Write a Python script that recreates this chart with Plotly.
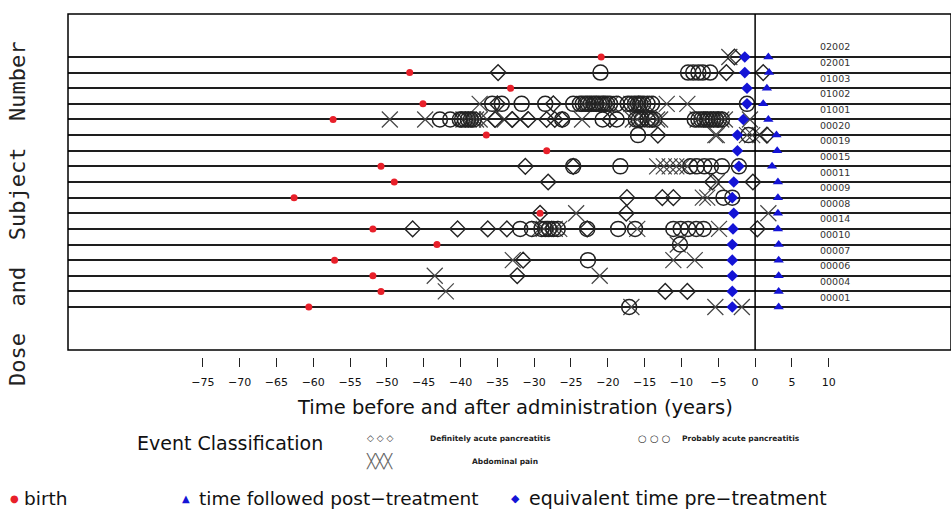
"""Subject timeline: birth, pancreatitis / abdominal pain events and follow-up per subject."""

import plotly.graph_objects as go

# --- data (years relative to administration) ---
SUBJECTS = ["02002", "02001", "01003", "01002", "01001", "00020", "00019", "00015",
            "00011", "00009", "00008", "00014", "00010", "00007", "00006", "00004", "00001"]

BIRTH = [-20.9, -46.9, -33.2, -45.1, -57.3, -36.5, -28.3, -50.8,
         -49.0, -62.6, -29.2, -51.9, -43.2, -57.1, -51.9, -50.8, -60.6]

PRE_EQUIV = [-1.4, -1.4, -1.1, -1.1, -1.6, -2.4, -2.4, -2.2,
             -2.9, -3.1, -2.9, -3.0, -3.1, -3.1, -3.1, -3.1, -3.1]

POST_FOLLOW = [1.8, 1.9, 1.6, 1.1, 1.8, 2.9, 3.0, 2.3,
               3.1, 3.1, 3.1, 3.1, 3.2, 3.2, 3.2, 3.2, 3.2]

# definitely acute pancreatitis (subject, time)
DEF_ACUTE = [
    ("02002", -2.8),
    ("02001", -34.9), ("02001", -3.9), ("02001", 1.1),
    ("01002", -35.0), ("01002", -27.4),
    ("01001", -35.3), ("01001", -33.0), ("01001", -30.8), ("01001", -28.3),
    ("01001", -27.2), ("01001", -26.2), ("01001", -19.7),
    ("00020", -13.2), ("00020", 1.6),
    ("00015", -31.2), ("00015", -24.7),
    ("00011", -28.1), ("00011", -5.8), ("00011", -0.3),
    ("00009", -17.4), ("00009", -12.6), ("00009", -11.1),
    ("00008", -29.2), ("00008", -17.5),
    ("00014", -46.5), ("00014", -40.4), ("00014", -36.3), ("00014", -33.7),
    ("00014", -22.8), ("00014", 0.3),
    ("00007", -31.5),
    ("00006", -32.3),
    ("00004", -12.2), ("00004", -9.2),
]

# probably acute pancreatitis
PROB_ACUTE = [
    ("02001", -21.0), ("02001", -9.1), ("02001", -8.4), ("02001", -7.7),
    ("02001", -7.1), ("02001", -6.1),
    ("01002", -35.7), ("01002", -34.4), ("01002", -31.7), ("01002", -28.5),
    ("01002", -24.7), ("01002", -23.8), ("01002", -23.4), ("01002", -23.0),
    ("01002", -22.7), ("01002", -22.3), ("01002", -21.9), ("01002", -21.6),
    ("01002", -21.2), ("01002", -20.8), ("01002", -20.5), ("01002", -20.1),
    ("01002", -19.7), ("01002", -18.8),
    ("01002", -17.3), ("01002", -16.8), ("01002", -16.3), ("01002", -15.9),
    ("01002", -15.6), ("01002", -15.2), ("01002", -14.6), ("01002", -14.0),
    ("01002", -1.1),
    ("01001", -42.8), ("01001", -41.4), ("01001", -40.1), ("01001", -39.8),
    ("01001", -39.4), ("01001", -39.0), ("01001", -38.6), ("01001", -38.2),
    ("01001", -26.2), ("01001", -20.7), ("01001", -18.8),
    ("01001", -16.2), ("01001", -15.8), ("01001", -15.4), ("01001", -14.6),
    ("01001", -14.1), ("01001", -13.7),
    ("01001", -8.2), ("01001", -7.7), ("01001", -7.3), ("01001", -6.9),
    ("01001", -6.5), ("01001", -6.1), ("01001", -5.7), ("01001", -5.3),
    ("01001", -4.9), ("01001", -4.5),
    ("00020", -15.9), ("00020", -0.9),
    ("00015", -24.7), ("00015", -18.3), ("00015", -8.8), ("00015", -7.9),
    ("00015", -6.9), ("00015", -6.0), ("00015", -4.5), ("00015", -2.2),
    ("00009", -4.3), ("00009", -3.1),
    ("00014", -31.9), ("00014", -30.3), ("00014", -29.0), ("00014", -28.5),
    ("00014", -28.0), ("00014", -27.4), ("00014", -26.8),
    ("00014", -22.8), ("00014", -18.6), ("00014", -16.3), ("00014", -11.1),
    ("00014", -10.1), ("00014", -9.1), ("00014", -8.0), ("00014", -7.0),
    ("00010", -10.2),
    ("00007", -22.7),
    ("00001", -17.1),
]

# abdominal pain
ABDOMINAL = [
    ("02002", -3.5),
    ("01002", -37.4), ("01002", -23.2), ("01002", -22.6), ("01002", -21.4),
    ("01002", -20.3), ("01002", -19.6), ("01002", -16.8), ("01002", -16.1),
    ("01002", -15.4), ("01002", -14.8), ("01002", -12.0), ("01002", -9.2),
    ("01001", -49.6), ("01001", -44.8), ("01001", -39.6), ("01001", -38.9),
    ("01001", -38.3), ("01001", -37.9), ("01001", -37.4),
    ("01001", -36.4), ("01001", -34.0), ("01001", -31.9), ("01001", -23.5),
    ("01001", -16.6), ("01001", -16.0), ("01001", -15.0), ("01001", -14.4),
    ("01001", -13.3), ("01001", -12.9),
    ("01001", -7.8), ("01001", -7.0), ("01001", -6.0), ("01001", -5.5),
    ("01001", -4.6), ("01001", -4.1), ("01001", -0.7),
    ("00020", -5.4), ("00020", -5.2), ("00020", -1.1), ("00020", -0.4), ("00020", 0.7),
    ("00015", -13.3), ("00015", -12.4), ("00015", -11.6), ("00015", -10.7),
    ("00015", -9.9), ("00015", -9.2),
    ("00011", -5.2),
    ("00009", -7.1), ("00009", -6.5),
    ("00008", -24.3), ("00008", 1.8),
    ("00014", -29.3), ("00014", -28.7), ("00014", -27.8), ("00014", -27.2),
    ("00014", -26.6), ("00014", -16.0), ("00014", -4.9),
    ("00010", -10.5),
    ("00007", -32.9), ("00007", -11.1), ("00007", -8.2),
    ("00006", -43.5), ("00006", -21.1),
    ("00004", -42.0),
    ("00001", -16.8), ("00001", -5.4), ("00001", -1.8),
]

X_TICKS = list(range(-75, 11, 5))

# --- geometry helpers (pixels -> paper fractions) ---
W, H = 951, 513
ML, MR, MT, MB = 68, 0, 14, 156
PLOT_W = W - ML - MR
PLOT_H = H - MT - MB


def px(x):
    return (x - ML) / PLOT_W


def py(y):
    return (H - MB - y) / PLOT_H


N = len(SUBJECTS)
ROW = {s: N - i for i, s in enumerate(SUBJECTS)}
rows = [ROW[s] for s in SUBJECTS]

INK = "#222222"
RED = "#e8202a"
BLUE = "#1414d6"
FONT = "DejaVu Sans"

fig = go.Figure()


def _events(pairs, symbol, size, name, color=INK, width=1.3):
    return go.Scatter(
        x=[t for _, t in pairs], y=[ROW[s] for s, _ in pairs], mode="markers",
        marker=dict(symbol=symbol, size=size, color=color,
                    line=dict(color=color, width=width)),
        name=name, hoverinfo="x+name")


fig.add_trace(_events(ABDOMINAL, "x-thin-open", 16, "Abdominal pain", "#444444", 1.2))
fig.add_trace(_events(PROB_ACUTE, "circle-open", 15, "Probably acute pancreatitis", INK, 1.5))
fig.add_trace(_events(DEF_ACUTE, "diamond-open", 12, "Definitely acute pancreatitis", INK, 1.4))

fig.add_trace(go.Scatter(x=PRE_EQUIV, y=rows, mode="markers",
                         marker=dict(symbol="diamond", size=9, color=BLUE),
                         name="equivalent time pre-treatment"))
fig.add_trace(go.Scatter(x=POST_FOLLOW, y=rows, mode="markers",
                         marker=dict(symbol="triangle-up", size=9, color=BLUE),
                         name="time followed post-treatment"))
fig.add_trace(go.Scatter(x=BIRTH, y=rows, mode="markers",
                         marker=dict(symbol="circle", size=7, color=RED),
                         name="birth"))

# frame + zero line
fig.add_shape(type="rect", xref="x domain", yref="y domain", x0=0, x1=1, y0=0, y1=1,
              line=dict(color="black", width=1.5))
fig.add_shape(type="line", xref="x", yref="y domain", x0=0, x1=0, y0=0, y1=1,
              line=dict(color="black", width=1.5))

ann = []
# subject labels at the right
for s in SUBJECTS:
    ann.append(dict(x=10.9, y=ROW[s], xref="x", yref="y", text=s, showarrow=False,
                    yshift=10, font=dict(size=9.5, color="#333", family=FONT)))

# axis titles
ann.append(dict(x=px(515), y=py(408), xref="paper", yref="paper",
                xanchor="center", yanchor="middle",
                text="Time before and after administration (years)", showarrow=False,
                font=dict(size=19.5, color="#111", family=FONT)))
ann.append(dict(x=px(18), y=py(214), xref="paper", yref="paper", textangle=-90,
                xanchor="center", yanchor="middle",
                text="Dose\u00a0 and\u00a0 Subject\u00a0 Number", showarrow=False,
                font=dict(size=22, color="#222", family="DejaVu Sans Mono")))

# event classification key
key = [
    (230, 443, "Event Classification", 19, "center", "#111", FONT),
    (380, 438, "◇ ◇ ◇", 9, "center", "#333", FONT),
    (380, 461, "╳╳╳", 14, "center", "#666", "DejaVu Sans Mono"),
    (428, 438, "<b>Definitely acute pancreatitis</b>", 7.5, "left", "#222", FONT),
    (540, 461, "<b>Abdominal pain</b>", 7.5, "right", "#222", FONT),
    (654, 438, "○ ○ ○", 10, "center", "#333", FONT),
    (680, 438, "<b>Probably acute pancreatitis</b>", 7.5, "left", "#222", FONT),
]
for x, y, txt, size, anchor, col, fam in key:
    ann.append(dict(x=px(x), y=py(y), xref="paper", yref="paper", text=txt,
                    showarrow=False, xanchor=anchor, yanchor="middle",
                    font=dict(size=size, color=col, family=fam)))

# marker key at the bottom
bottom = [
    (14, "●", 10, RED, "center"),
    (22, "birth", 18.5, "#111", "left"),
    (186, "▲", 10, BLUE, "center"),
    (197, "time followed post−treatment", 18.5, "#111", "left"),
    (515, "◆", 11, BLUE, "center"),
    (527, "equivalent time pre−treatment", 19, "#111", "left"),
]
for x, txt, size, col, anchor in bottom:
    ann.append(dict(x=px(x), y=py(498), xref="paper", yref="paper", text=txt,
                    showarrow=False, xanchor=anchor, yanchor="middle",
                    font=dict(size=size, color=col, family=FONT)))

fig.update_layout(
    width=W, height=H, margin=dict(l=ML, r=MR, t=MT, b=MB),
    paper_bgcolor="white", plot_bgcolor="white", showlegend=False,
    annotations=ann,
    xaxis=dict(range=[-93.3, 26.6], tickvals=X_TICKS, ticks="outside", ticklen=9,
               tickcolor="#222", tickwidth=1.2, showgrid=False, zeroline=False,
               showline=False, anchor="free", position=0, ticklabelstandoff=6,
               tickfont=dict(size=11, color="#111", family=FONT)),
    yaxis=dict(range=[-1.75, 19.75], domain=[(H - MB - 350) / PLOT_H, 1],
               tickvals=rows, showticklabels=False, ticks="", showgrid=True,
               gridcolor="#1e1e1e", gridwidth=2, zeroline=False, showline=False),
)

# the page body has a default 8px margin; drop it so the figure sits at the corner
fig.write_html("out.html", config={"displayModeBar": False},
               post_script="document.body.style.margin='0';")
